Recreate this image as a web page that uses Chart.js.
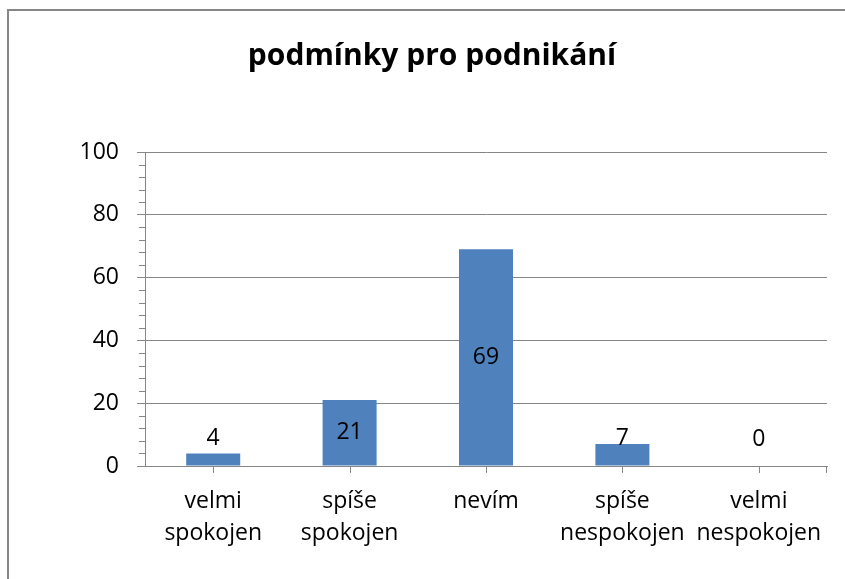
<!DOCTYPE html>
<html>
<head>
<meta charset="utf-8">
<script src="https://cdn.jsdelivr.net/npm/chart.js@4.4.0/dist/chart.umd.min.js"></script>
<style>
  html, body { margin: 0; padding: 0; background: #fff; }
  #wrap { width: 845px; height: 579px; position: relative; }
</style>
</head>
<body>
<div id="wrap"><canvas id="chart" width="845" height="579"></canvas></div>
<script>
const chartTitle = "podmínky pro podnikání";
const categories = [
  ["velmi", "spokojen"],
  ["spíše", "spokojen"],
  ["nevím"],
  ["spíše", "nespokojen"],
  ["velmi", "nespokojen"]
];
const values = [4, 21, 69, 7, 0];
const yTicks = [0, 20, 40, 60, 80, 100];

const FONT = "'Open Sans', Lato, sans-serif";
const GRID = "#868686";

// frame, title, minor y ticks, x tick marks
const decorations = {
  id: "decorations",
  beforeDraw(chart) {
    const ctx = chart.ctx;
    ctx.save();
    ctx.fillStyle = "#fff";
    ctx.fillRect(0, 0, chart.width, chart.height);
    ctx.strokeStyle = "#868686";
    ctx.lineWidth = 2;
    ctx.beginPath();
    ctx.moveTo(8, chart.height);
    ctx.lineTo(8, 10);
    ctx.lineTo(chart.width, 10);
    ctx.stroke();
    ctx.restore();
  },
  afterDraw(chart) {
    const ctx = chart.ctx;
    const area = chart.chartArea;
    const y = chart.scales.y;
    const x = chart.scales.x;
    ctx.save();
    ctx.fillStyle = "#000";
    ctx.font = "bold 30px " + FONT;
    ctx.textAlign = "center";
    ctx.textBaseline = "middle";
    ctx.fillText(chartTitle, 432, 56);

    ctx.strokeStyle = GRID;
    ctx.lineWidth = 1;
    ctx.beginPath();
    for (let v = 0; v <= 100; v += 4) {
      if (v % 20 === 0) continue;
      const py = Math.round(y.getPixelForValue(v)) + 0.5;
      ctx.moveTo(area.left - 6, py);
      ctx.lineTo(area.left, py);
    }
    const by = area.bottom;
    for (let i = 0; i < categories.length; i++) {
      const px = Math.round(x.getPixelForValue(i)) + 0.5;
      ctx.moveTo(px, by);
      ctx.lineTo(px, by + 7);
    }
    ctx.moveTo(area.right - 0.5, by);
    ctx.lineTo(area.right - 0.5, by + 7);
    ctx.stroke();
    ctx.restore();
  }
};

const barLabels = {
  id: "barLabels",
  afterDatasetsDraw(chart) {
    const ctx = chart.ctx;
    const meta = chart.getDatasetMeta(0);
    ctx.save();
    ctx.fillStyle = "#000";
    ctx.font = "23px " + FONT;
    ctx.textAlign = "center";
    ctx.textBaseline = "middle";
    meta.data.forEach((bar, i) => {
      const mid = (bar.y + bar.base) / 2;
      const ly = Math.min(mid, bar.base - 27);
      ctx.fillText(String(values[i]), bar.x, ly);
    });
    ctx.restore();
  }
};

new Chart(document.getElementById("chart"), {
  type: "bar",
  data: {
    labels: categories,
    datasets: [{
      data: values,
      backgroundColor: "#4F81BD",
      borderWidth: 0,
      barPercentage: 0.396,
      categoryPercentage: 1
    }]
  },
  options: {
    responsive: false,
    animation: false,
    layout: { padding: { top: 152, left: 0, right: 18, bottom: 0 } },
    plugins: {
      legend: { display: false },
      tooltip: { enabled: false },
      title: { display: false }
    },
    scales: {
      x: {
        grid: { display: false, drawTicks: false },
        border: { display: true, color: GRID, width: 1 },
        ticks: {
          color: "#000",
          font: { family: FONT, size: 23, lineHeight: "32px" },
          padding: 19,
          maxRotation: 0,
          autoSkip: false
        },
        afterFit(scale) { scale.height = 113; }
      },
      y: {
        min: 0,
        max: 100,
        afterBuildTicks(scale) { scale.ticks = yTicks.map(v => ({ value: v })); },
        grid: { color: GRID, lineWidth: 1, tickLength: 8, drawTicks: true },
        border: { display: true, color: GRID, width: 1 },
        ticks: {
          color: "#000",
          font: { family: FONT, size: 23 },
          padding: 18
        },
        afterFit(scale) { scale.width = 145; }
      }
    }
  },
  plugins: [decorations, barLabels]
});
</script>
</body>
</html>
